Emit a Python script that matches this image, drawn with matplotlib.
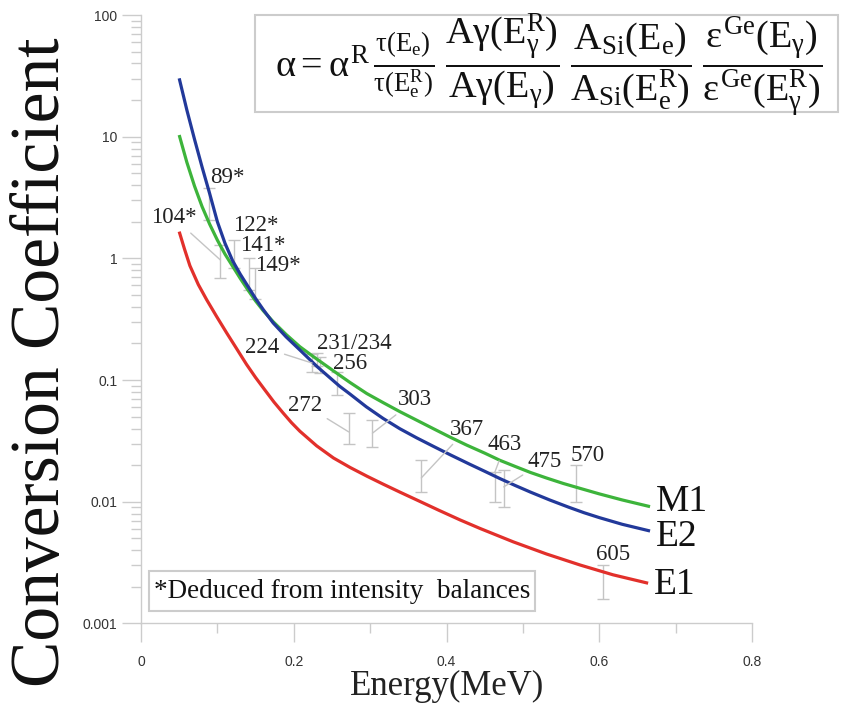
import matplotlib
matplotlib.use("Agg")
import matplotlib.pyplot as plt
from matplotlib.patches import Rectangle
from matplotlib.ticker import FixedLocator, MultipleLocator, FuncFormatter
import numpy as np

plt.rcParams['mathtext.fontset'] = 'custom'
plt.rcParams['mathtext.rm'] = 'Liberation Serif'
plt.rcParams['mathtext.it'] = 'Liberation Serif'
plt.rcParams['mathtext.bf'] = 'Liberation Serif:bold'

# theoretical curves (energy in MeV)
m1_energy = [0.05, 0.06, 0.07, 0.08, 0.09, 0.10, 0.11, 0.12, 0.13, 0.14, 0.15, 0.16,
             0.173, 0.19, 0.208, 0.2256, 0.252, 0.2737, 0.2955, 0.317, 0.339, 0.361,
             0.383, 0.405, 0.4265, 0.45, 0.47, 0.49, 0.51, 0.531, 0.553, 0.575, 0.6,
             0.63, 0.6665]
m1_alpha = [10.33, 6.17, 3.94, 2.66, 1.905, 1.413, 1.084, 0.861, 0.684, 0.550, 0.447,
            0.372, 0.302, 0.237, 0.188, 0.156, 0.119, 0.0955, 0.0776, 0.0653, 0.0550,
            0.0468, 0.0398, 0.0339, 0.0292, 0.0251, 0.0219, 0.0195, 0.0174, 0.01567,
            0.01413, 0.01288, 0.01161, 0.01035, 0.00912]

e2_energy = [0.05, 0.06, 0.07, 0.08, 0.09, 0.10, 0.11, 0.12, 0.13, 0.14, 0.15, 0.16,
             0.173, 0.19, 0.21, 0.23, 0.26, 0.2737, 0.295, 0.317, 0.339, 0.361, 0.383,
             0.405, 0.43, 0.45, 0.47, 0.49, 0.51, 0.535, 0.56, 0.58, 0.60, 0.63, 0.6665]
e2_alpha = [30.2, 16.6, 9.55, 5.62, 3.39, 2.0, 1.33, 0.955, 0.741, 0.589, 0.468, 0.380,
            0.295, 0.2265, 0.172, 0.130, 0.0891, 0.0767, 0.0603, 0.0484, 0.0398, 0.0335,
            0.0285, 0.0243, 0.0204, 0.0178, 0.0155, 0.0136, 0.0120, 0.01035, 0.00902,
            0.00813, 0.00741, 0.00653, 0.00575]

e1_energy = [0.05, 0.057, 0.064, 0.075, 0.086, 0.099, 0.112, 0.125, 0.138, 0.15, 0.162,
             0.174, 0.186, 0.197, 0.208, 0.23, 0.252, 0.274, 0.296, 0.317, 0.339, 0.361,
             0.39, 0.418, 0.444, 0.4875, 0.531, 0.575, 0.618, 0.664]
e1_alpha = [1.66, 1.19, 0.871, 0.610, 0.457, 0.333, 0.245, 0.182, 0.135, 0.105, 0.0832,
            0.0661, 0.0537, 0.0447, 0.0380, 0.0288, 0.0229, 0.0191, 0.0162, 0.01396,
            0.0120, 0.01035, 0.00851, 0.00708, 0.00603, 0.00468, 0.00372, 0.00302,
            0.00251, 0.00214]

# measured transitions (keV) with error bar low / high
lines_kev = [89, 104, 122, 141, 149, 224, 231, 234, 256, 272, 303, 367, 463, 475, 570, 605]
alpha_low = [2.07, 0.69, 0.83, 0.55, 0.46, 0.117, 0.13, 0.115, 0.0755, 0.030, 0.028,
             0.012, 0.010, 0.0091, 0.010, 0.0016]
alpha_high = [3.8, 1.29, 1.42, 1.0, 0.83, 0.164, 0.166, 0.155, 0.117, 0.054, 0.047,
              0.022, 0.0177, 0.0182, 0.020, 0.0030]

label_text = ['89*', '104*', '122*', '141*', '149*', '224', '231/234', '256', '272',
              '303', '367', '463', '475', '570', '605']
label_pos = [(0.1126, 4.58), (0.0432, 2.15), (0.1506, 1.87), (0.1597, 1.28), (0.1794, 0.88),
             (0.1584, 0.187), (0.2789, 0.198), (0.2737, 0.138), (0.2147, 0.0624),
             (0.3588, 0.0687), (0.4268, 0.0396), (0.4766, 0.0293), (0.529, 0.0216),
             (0.5853, 0.0238), (0.618, 0.00372)]
# leader lines: label index -> point on the error bar
leaders = {1: (0.104, 0.97), 5: (0.224, 0.138), 8: (0.272, 0.0375), 9: (0.303, 0.0366),
           10: (0.367, 0.0157), 11: (0.463, 0.0173), 12: (0.475, 0.01325)}

green = '#3db43b'
blue = '#22399a'
red = '#e2302b'
grey = '#c4c4c4'
serif = 'Liberation Serif'

fig = plt.figure(figsize=(8.5, 7.07), dpi=100)
ax = fig.add_axes([0.1659, 0.1182, 0.7188, 0.8605])

for xs, ys, c in [(m1_energy, m1_alpha, green), (e2_energy, e2_alpha, blue),
                  (e1_energy, e1_alpha, red)]:
    ax.plot(xs, ys, color=c, lw=2.3, solid_joinstyle='round', solid_capstyle='butt')

energy = np.array(lines_kev) / 1000.0
lo = np.array(alpha_low)
hi = np.array(alpha_high)
ax.errorbar(energy, lo, yerr=[np.zeros_like(lo), hi - lo], fmt='none',
            ecolor=grey, elinewidth=1.0, capsize=4.5, capthick=1.0, zorder=1)

for i, (txt, pos) in enumerate(zip(label_text, label_pos)):
    if i in leaders:
        ax.annotate(txt, xy=leaders[i], xytext=pos, ha='center', va='center',
                    fontsize=16.5, family=serif, color='#222222',
                    arrowprops=dict(arrowstyle='-', color=grey, lw=1.0,
                                    shrinkA=2, shrinkB=0))
    else:
        ax.text(pos[0], pos[1], txt, ha='center', va='center',
                fontsize=16.5, family=serif, color='#222222')

for name, xs, ys, dy in [('M1', m1_energy, m1_alpha, 3.5),
                         ('E2', e2_energy, e2_alpha, -4),
                         ('E1', e1_energy, e1_alpha, -1)]:
    ax.annotate(name, xy=(xs[-1], ys[-1]), xytext=(4, dy), textcoords='offset points',
                ha='left', va='center', fontsize=27, family=serif, color='#111111')

ax.set_yscale('log')
ax.set_xlim(0, 0.8)
ax.set_ylim(0.001, 100)
ax.xaxis.set_major_locator(MultipleLocator(0.2))
ax.xaxis.set_minor_locator(MultipleLocator(0.1))
ax.xaxis.set_major_formatter(FuncFormatter(lambda v, p: '%g' % v))
ax.yaxis.set_major_locator(FixedLocator([0.001, 0.01, 0.1, 1, 10, 100]))
ax.yaxis.set_major_formatter(FuncFormatter(lambda v, p: '%g' % v))

for s in ['top', 'right']:
    ax.spines[s].set_visible(False)
for s in ['left', 'bottom']:
    ax.spines[s].set_color('#cccccc')
    ax.spines[s].set_linewidth(1.0)
ax.tick_params(which='major', direction='out', length=14, width=1.0, color='#cccccc',
               labelsize=10, labelcolor='#333333', pad=3)
ax.tick_params(which='minor', direction='out', length=7, width=1.0, color='#cccccc')
ax.tick_params(axis='x', which='major', pad=9)
for lab in ax.get_xticklabels() + ax.get_yticklabels():
    lab.set_family('Liberation Sans')

fig.text(0.050, 0.488, 'Conversion Coefficient', rotation=90, ha='center', va='center',
         fontsize=50, family=serif, color='#111111')
fig.text(0.526, 0.029, 'Energy(MeV)', ha='center', va='center',
         fontsize=25, family=serif, color='#222222')

# formula box
fig.patches.append(Rectangle((0.300, 0.8416), 0.686, 0.137, transform=fig.transFigure,
                             fill=False, edgecolor='#cccccc', lw=1.5))
formula = (r'$\alpha = \alpha^{\mathrm{R}}\,\frac{\tau(\mathrm{E_e})}{\tau(\mathrm{E_e^R})}\;'
           r'\dfrac{\mathrm{A}\gamma(\mathrm{E}_\gamma^\mathrm{R})}{\mathrm{A}\gamma(\mathrm{E}_\gamma)}\;'
           r'\dfrac{\mathrm{A_{Si}(E_e)}}{\mathrm{A_{Si}(E_e^R)}}\;'
           r'\dfrac{\varepsilon^{\mathrm{Ge}}(\mathrm{E}_\gamma)}{\varepsilon^{\mathrm{Ge}}(\mathrm{E}_\gamma^\mathrm{R})}$')
fig.text(0.646, 0.908, formula, ha='center', va='center', fontsize=27.5, color='#111111')

# note box
fig.patches.append(Rectangle((0.1753, 0.1358), 0.454, 0.0566, transform=fig.transFigure,
                             fill=False, edgecolor='#cccccc', lw=1.5))
fig.text(0.402, 0.164, '*Deduced from intensity  balances', ha='center', va='center',
         fontsize=19.5, family=serif, color='#111111')

fig.savefig('out.png', dpi=100)
